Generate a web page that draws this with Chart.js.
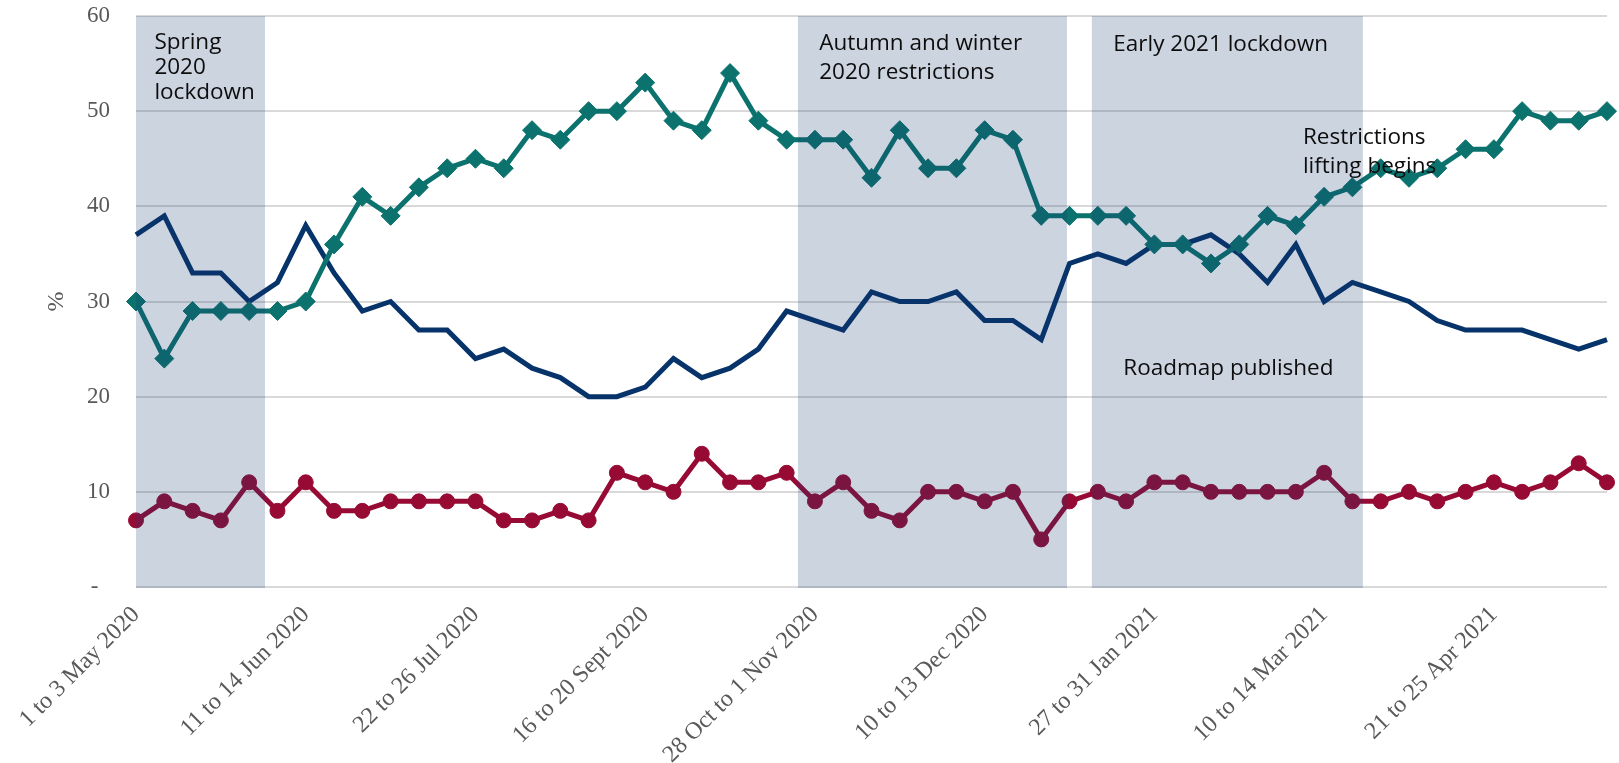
<!DOCTYPE html>
<html>
<head>
<meta charset="utf-8">
<script src="https://cdn.jsdelivr.net/npm/chart.js@4.4.1/dist/chart.umd.min.js"></script>
<style>
html, body { margin: 0; padding: 0; background: #fff; }
</style>
</head>
<body>
<canvas id="myChart" width="1619" height="763"></canvas>
<script>
// survey waves, only every sixth one is labelled on the axis
const categories = [
	'1 to 3 May 2020', '', '', '', '', '',
	'11 to 14 Jun 2020', '', '', '', '', '',
	'22 to 26 Jul 2020', '', '', '', '', '',
	'16 to 20 Sept 2020', '', '', '', '', '',
	'28 Oct to 1 Nov 2020', '', '', '', '', '',
	'10 to 13 Dec 2020', '', '', '', '', '',
	'27 to 31 Jan 2021', '', '', '', '', '',
	'10 to 14 Mar 2021', '', '', '', '', '',
	'21 to 25 Apr 2021', '', '', '', ''
];

const tealValues = [30, 24, 29, 29, 29, 29, 30, 36, 41, 39, 42, 44, 45, 44, 48, 47, 50, 50, 53, 49, 48, 54, 49, 47, 47, 47, 43, 48, 44, 44, 48, 47, 39, 39, 39, 39, 36, 36, 34, 36, 39, 38, 41, 42, 44, 43, 44, 46, 46, 50, 49, 49, 50];
const navyValues = [37, 39, 33, 33, 30, 32, 38, 33, 29, 30, 27, 27, 24, 25, 23, 22, 20, 20, 21, 24, 22, 23, 25, 29, 28, 27, 31, 30, 30, 31, 28, 28, 26, 34, 35, 34, 36, 36, 37, 35, 32, 36, 30, 32, 31, 30, 28, 27, 27, 27, 26, 25, 26];
const redValues = [7, 9, 8, 7, 11, 8, 11, 8, 8, 9, 9, 9, 9, 7, 7, 8, 7, 12, 11, 10, 14, 11, 11, 12, 9, 11, 8, 7, 10, 10, 9, 10, 5, 9, 10, 9, 11, 11, 10, 10, 10, 10, 12, 9, 9, 10, 9, 10, 11, 10, 11, 13, 11];

const yTicks = [0, 10, 20, 30, 40, 50, 60];

// restriction periods, as fractional positions along the category axis
const periods = [[0, 4.56], [23.4, 32.91], [33.79, 43.37]];

// text notes: lines, anchor [category position, value], line gap in px
const notes = [
	{ lines: ['Spring', '2020', 'lockdown'], at: [0.65, 57.25], gap: 25 },
	{ lines: ['Autumn and winter', '2020 restrictions'], at: [24.15, 57.15], gap: 29 },
	{ lines: ['Early 2021 lockdown'], at: [34.55, 57.0], gap: 29 },
	{ lines: ['Restrictions', 'lifting begins'], at: [41.25, 47.2], gap: 29 },
	{ lines: ['Roadmap published'], at: [34.9, 23.0], gap: 29 }
];

const serif = '"Liberation Serif", "Times New Roman", serif';

const shading = {
	id: 'shading',
	afterDatasetsDraw(chart) {
		const { ctx, chartArea, scales: { x, y } } = chart;
		ctx.save();
		ctx.fillStyle = 'rgba(23, 60, 114, 0.22)';
		periods.forEach(p => {
			const x0 = x.getPixelForValue(p[0]);
			const x1 = x.getPixelForValue(p[1]);
			ctx.fillRect(x0, chartArea.top, x1 - x0, chartArea.bottom - chartArea.top + 1);
		});
		ctx.font = '22.5px "Open Sans"';
		ctx.fillStyle = '#0d0d0d';
		ctx.textBaseline = 'middle';
		ctx.textAlign = 'left';
		notes.forEach(n => {
			const left = x.getPixelForValue(n.at[0]);
			const top = y.getPixelForValue(n.at[1]);
			n.lines.forEach((t, i) => ctx.fillText(t, left, top + i * n.gap));
		});
		ctx.restore();
	}
};

const ctx = document.getElementById('myChart').getContext('2d');
let myChart = new Chart(ctx, {
	type: 'line',
	data: {
		labels: categories,
		datasets: [
			{
				label: 'teal',
				data: tealValues,
				borderColor: '#0b726e',
				backgroundColor: '#0b726e',
				borderWidth: 5,
				pointStyle: 'rectRot',
				pointRadius: 9.5,
				pointBorderWidth: 1
			},
			{
				label: 'navy',
				data: navyValues,
				borderColor: '#06336a',
				backgroundColor: '#06336a',
				borderWidth: 5,
				pointRadius: 0
			},
			{
				label: 'red',
				data: redValues,
				borderColor: '#970a33',
				backgroundColor: '#970a33',
				borderWidth: 5,
				pointStyle: 'circle',
				pointRadius: 7.5,
				pointBorderWidth: 1
			}
		]
	},
	options: {
		responsive: false,
		animation: false,
		devicePixelRatio: 1,
		events: [],
		layout: { padding: { top: 16, right: 12, left: 0, bottom: 0 } },
		plugins: {
			legend: { display: false },
			tooltip: { enabled: false }
		},
		scales: {
			x: {
				grid: { display: false },
				border: { display: false },
				ticks: {
					autoSkip: false,
					minRotation: 45,
					maxRotation: 45,
					padding: 6,
					color: '#595959',
					font: { family: serif, size: 24 }
				},
				afterFit(scale) {
					scale.height = 176;
					scale.paddingLeft = 0;
					scale.paddingRight = 0;
				}
			},
			y: {
				min: yTicks[0],
				max: yTicks[yTicks.length - 1],
				afterBuildTicks(scale) { scale.ticks = yTicks.map(v => ({ value: v })); },
				grid: { color: '#d9d9d9', lineWidth: 2, drawTicks: false },
				border: { display: false },
				ticks: {
					padding: 26,
					color: '#595959',
					font: { family: serif, size: 23 },
					callback: v => v === 0 ? '-  ' : v
				},
				title: {
					display: true,
					text: '%',
					color: '#595959',
					font: { family: serif, size: 24 },
					padding: { top: 42, bottom: 0 }
				},
				afterFit(scale) {
					scale.width = 136;
					scale.paddingTop = 0;
					scale.paddingBottom = 0;
				}
			}
		}
	},
	plugins: [shading]
});
</script>
</body>
</html>
